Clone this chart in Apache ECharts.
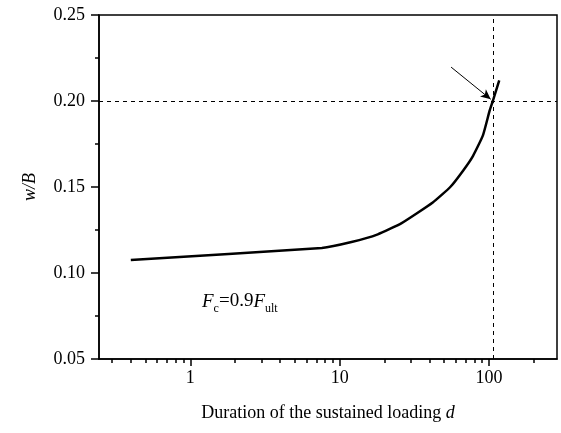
<!DOCTYPE html>
<html>
<head>
<meta charset="utf-8">
<script src="https://cdn.jsdelivr.net/npm/echarts@6/dist/echarts.min.js"></script>
<style>
  html, body { margin: 0; padding: 0; background: #fff; }
  #chart { width: 561px; height: 433px; }
</style>
</head>
<body>
<div id="chart"></div>
<script>
// duration of sustained loading (d) and settlement ratio w/B
const durations = [0.4, 7.6, 12, 18, 26, 42, 55, 67, 78, 91, 101, 106, 117];
const wB = [0.1075, 0.1146, 0.118, 0.1225, 0.129, 0.141, 0.150, 0.1595, 0.168, 0.180, 0.1945, 0.200, 0.212];
const xMajorTicks = [1, 10, 100];
const xMinorTicks = [0.3, 0.4, 0.5, 0.6, 0.7, 0.8, 0.9, 2, 3, 4, 5, 6, 7, 8, 9,
  20, 30, 40, 50, 60, 70, 80, 90, 200];
const criticalDay = 106;
const criticalWB = 0.2;
const arrowFrom = [55.7, 0.2197];
const arrowTo = [102.6, 0.201];

const font = '"Liberation Serif", "Times New Roman", serif';
const chart = echarts.init(document.getElementById('chart'), null, { renderer: 'canvas' });

const option = {
  backgroundColor: '#fff',
  animation: false,
  textStyle: { fontFamily: font, color: '#000' },
  grid: {
    left: 99, right: 4, top: 15, bottom: 74,
    show: true, borderColor: '#000', borderWidth: 1.5
  },
  xAxis: [
    {
      type: 'log',
      min: 0.245,
      max: 285,
      name: '{n|Duration of the sustained loading }{i|d}',
      nameLocation: 'middle',
      nameGap: 45,
      nameTextStyle: {
        rich: {
          n: { fontFamily: font, fontSize: 18, color: '#000' },
          i: { fontFamily: font, fontSize: 18, fontStyle: 'italic', color: '#000' }
        }
      },
      axisLine: { show: true, lineStyle: { color: '#000', width: 1.5 } },
      axisTick: { show: true, inside: false, length: 7, customValues: xMajorTicks, lineStyle: { color: '#000', width: 1.5 } },
      minorTick: { show: false },
      axisLabel: { customValues: xMajorTicks, fontFamily: font, fontSize: 18, color: '#000', margin: 10 },
      splitLine: { show: false }
    },
    {
      type: 'log',
      min: 0.245,
      max: 285,
      position: 'bottom',
      axisLine: { show: false },
      axisTick: { show: true, inside: false, length: 4, customValues: xMinorTicks, lineStyle: { color: '#000', width: 1.5 } },
      axisLabel: { show: false },
      splitLine: { show: false }
    }
  ],
  yAxis: {
    type: 'value',
    min: 0.05,
    max: 0.25,
    interval: 0.05,
    name: 'w/B',
    nameLocation: 'middle',
    nameGap: 60,
    nameTextStyle: { fontFamily: font, fontSize: 18, fontStyle: 'italic', color: '#000' },
    axisLine: { show: true, lineStyle: { color: '#000', width: 1.5 } },
    axisTick: { show: true, inside: false, length: 8, lineStyle: { color: '#000', width: 1.5 } },
    minorTick: { show: true, splitNumber: 2, length: 4, lineStyle: { color: '#000', width: 1.5 } },
    axisLabel: {
      fontFamily: font, fontSize: 18, color: '#000', margin: 14,
      formatter: v => v.toFixed(2)
    },
    splitLine: { show: false }
  },
  series: [
    {
      type: 'line',
      data: durations.map((d, i) => [d, wB[i]]),
      showSymbol: false,
      smooth: 0.15,
      lineStyle: { color: '#000', width: 2.5 },
      markLine: {
        silent: true,
        symbol: 'none',
        label: { show: false },
        lineStyle: { color: '#000', width: 1, type: [4, 4] },
        data: [{ xAxis: criticalDay }, { yAxis: criticalWB }]
      }
    },
    {
      type: 'line',
      data: [],
      markLine: {
        silent: true,
        symbol: ['none', 'arrow'],
        symbolSize: [7, 10],
        label: { show: false },
        lineStyle: { color: '#000', width: 1, type: 'solid' },
        data: [[{ coord: arrowFrom }, { coord: arrowTo }]]
      }
    }
  ],
  graphic: [
    {
      type: 'text',
      left: 202,
      top: 292,
      style: {
        text: '{i|F}{s|c}{n|=0.9}{i|F}{s|ult}',
        rich: {
          i: { fontFamily: font, fontSize: 19, fontStyle: 'italic', verticalAlign: 'top', fill: '#000' },
          n: { fontFamily: font, fontSize: 19, verticalAlign: 'top', fill: '#000' },
          s: { fontFamily: font, fontSize: 12, verticalAlign: 'top', padding: [11, 0, 0, 0], fill: '#000' }
        }
      }
    }
  ]
};

chart.setOption(option);
</script>
</body>
</html>
